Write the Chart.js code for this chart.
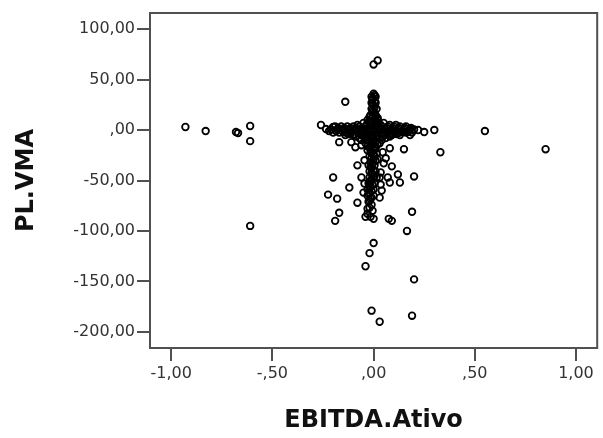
<!DOCTYPE html>
<html><head><meta charset="utf-8">
<script src="https://cdn.jsdelivr.net/npm/chart.js@4/dist/chart.umd.min.js"></script>
<style>html,body{margin:0;padding:0;background:#fff;overflow:hidden}#wrap{width:603px;height:438px}</style>
</head><body><div id="wrap"><canvas id="c" width="603" height="438"></canvas></div>
<script>
// Tick values and labels
const xTickValues = [-1, -0.5, 0, 0.5, 1];
const xTickLabels = ['-1,00', '-,50', ',00', ',50', '1,00'];
const yTickValues = [-200, -150, -100, -50, 0, 50, 100];
const yTickLabels = ['-200,00', '-150,00', '-100,00', '-50,00', ',00', '50,00', '100,00'];

// Far outliers
const farX = [-0.93, -0.83, -0.68, -0.67, -0.61, -0.61, -0.61, 0.55, 0.85, 0.00, 0.02, -0.14];
const farY = [3, -1, -2, -3, 4, -11, -95, -1, -19, 65, 69, 28];
// Scatter around the horizontal arm
const armScatterX = [-0.26, -0.235, -0.20, -0.22, -0.17, -0.11, -0.09, -0.06, 0.11, 0.22, 0.25, 0.30, 0.17, 0.18, 0.33, 0.15, 0.08, 0.06, 0.09, -0.08];
const armScatterY = [5, 1, 3, -1, -12, -12, -17, -15, 5, 0, -2, 0, -2, -5, -22, -19, -18, -28, -36, -35];
// Lower scatter
const lowX = [-0.20, -0.12, -0.225, -0.18, -0.08, -0.17, -0.19, 0.19, 0.075, 0.09, 0.165, 0.00, -0.02, -0.04, 0.20, -0.01, 0.03, 0.19, 0.20];
const lowY = [-47, -57, -64, -68, -72, -82, -90, -81, -88, -90, -100, -112, -122, -135, -148, -179, -190, -184, -46];
// Mid scatter near the stem
const midX = [-0.06, -0.045, 0.03, 0.07, 0.08, 0.035, 0.12, 0.13, 0.03, -0.03, -0.015, -0.04, 0.00, 0.035, 0.05, -0.045, 0.04, -0.05, 0.045];
const midY = [-47, -53, -47, -47, -52, -54, -44, -52, -67, -78, -86, -86, -88, -42, -33, -30, -60, -62, -22];
// Dense horizontal arm
const armX = [-0.19, -0.16, -0.13, -0.10, -0.07, -0.04, 0.04, 0.07, 0.10, 0.13, 0.16,
  -0.21, -0.18, -0.15, -0.12, -0.09, -0.06, -0.03, 0.00, 0.03, 0.06, 0.09, 0.12, 0.15, 0.18, 0.20,
  -0.20, -0.17, -0.14, -0.11, -0.08, -0.05, -0.02, 0.01, 0.04, 0.07, 0.10, 0.13, 0.16, 0.19,
  -0.14, -0.10, -0.06, -0.03, 0.02, 0.05, 0.09, 0.13,
  -0.05, -0.02, 0.02, 0.05, -0.07, -0.04, -0.01, 0.03, 0.06, -0.03, 0.02];
const armY = [3.5, 3.5, 3.5, 3.5, 3.5, 3.5, 3.5, 3.5, 3.5, 3.5, 3.5,
  0.5, 0.5, 0.5, 0.5, 0.5, 0.5, 0.5, 0.5, 0.5, 0.5, 0.5, 0.5, 0.5, 0.5, 0.5,
  -2.5, -2.5, -2.5, -2.5, -2.5, -2.5, -2.5, -2.5, -2.5, -2.5, -2.5, -2.5, -2.5, -2.5,
  -5, -5, -5, -5, -5, -5, -5, -5,
  7, 7, 7, 7, -8, -8, -8, -8, -8, 10, 10];
// Extra dense arm rows and central blob
const arm2X = [-0.175, -0.145, -0.115, -0.085, -0.055, -0.025, 0.005, 0.035, 0.065, 0.095, 0.125, 0.155, 0.185,
  -0.185, -0.155, -0.125, -0.095, -0.065, -0.035, -0.005, 0.025, 0.055, 0.085, 0.115, 0.145, 0.175,
  -0.125, -0.095, -0.065, -0.035, -0.005, 0.035, 0.065, 0.095, 0.115,
  -0.08, -0.035, 0.0, 0.035, 0.08,
  -0.09, -0.05, -0.015, 0.015, 0.045, 0.08,
  -0.06, -0.03, 0.0, 0.04,
  -0.04, -0.005, 0.03,
  -0.02, 0.01, -0.03, 0.01];
const arm2Y = [2, 2, 2, 2, 2, 2, 2, 2, 2, 2, 2, 2, 2,
  -1, -1, -1, -1, -1, -1, -1, -1, -1, -1, -1, -1, -1,
  -4, -4, -4, -4, -4, -4, -4, -4, -4,
  5, 5, 5, 5, 5,
  -6.5, -6.5, -6.5, -6.5, -6.5, -6.5,
  -10, -10, -10, -10,
  -13, -13, -13,
  13, 13, -16, -16];
// Dense vertical stem
const stemX = [0, -0.01, 0.01, -0.005, -0.01, 0.01, 0, -0.01, 0.015, 0, -0.015, 0.01, -0.005, 0.02, -0.02, 0.01,
  -0.02, 0.01, -0.01, 0.02, -0.02, 0.005, 0, -0.03, -0.01, 0.015, -0.02, 0.005, 0, 0.02, -0.015, 0.005, -0.025, -0.01,
  0.01, -0.02, -0.005, -0.02, 0.015, -0.01, -0.025, 0.005, -0.015, -0.03, 0, -0.02, -0.03, 0, -0.015, -0.025, -0.01, -0.02, -0.005, -0.03];
const stemY = [36, 33, 33, 30, 27, 27, 24, 21, 21, 18, 15, 15, 12, 12, 9, 9,
  -11, -11, -14, -14, -17, -17, -20, -20, -23, -23, -26, -26, -29, -29, -32, -35, -35, -38,
  -41, -41, -44, -47, -47, -50, -53, -53, -56, -59, -59, -62, -65, -65, -68, -71, -74, -77, -80, -83];
// Extra stem points
const stem2X = [0.005, -0.005, 0.005, -0.005, 0.005, -0.005, 0.005, -0.005, 0.005, -0.01, 0.01,
  -0.005, -0.015, 0.01, -0.015, 0.0, -0.01, 0.01, -0.005, -0.015, 0.0, -0.01, 0.005, -0.01, -0.02, -0.005, -0.02, -0.01, -0.025, -0.01, -0.02];
const stem2Y = [34.5, 31.5, 28.5, 25.5, 22.5, 19.5, 16.5, 13.5, 10.5, 7, 5,
  -12.5, -15.5, -18.5, -21.5, -24.5, -27.5, -30.5, -33.5, -36.5, -39.5, -42.5, -45.5, -48.5, -51.5, -54.5, -57.5, -60.5, -63.5, -67, -70];

const allX = [].concat(farX, armScatterX, lowX, midX, armX, arm2X, stemX, stem2X);
const allY = [].concat(farY, armScatterY, lowY, midY, armY, arm2Y, stemY, stem2Y);
const points = allX.map((x, i) => ({ x: x, y: allY[i] }));

const frame = {
  id: 'frame',
  beforeDatasetsDraw(chart) {
    const { ctx, chartArea: a } = chart;
    ctx.save();
    ctx.strokeStyle = '#505050';
    ctx.lineWidth = 2;
    ctx.strokeRect(a.left, a.top, a.right - a.left, a.bottom - a.top);
    ctx.restore();
  }
};

const tickFont = { family: 'DejaVu Sans', size: 16 };
const titleFont = { family: 'DejaVu Sans', size: 24, weight: 'bold' };

new Chart(document.getElementById('c'), {
  type: 'scatter',
  data: {
    datasets: [{
      data: points,
      pointRadius: 3.3,
      pointBorderWidth: 1.8,
      pointBorderColor: '#000',
      pointBackgroundColor: 'rgba(0,0,0,0)',
      pointStyle: 'circle'
    }]
  },
  options: {
    responsive: false,
    animation: false,
    events: [],
    layout: { padding: { top: 13, right: 2, left: 0, bottom: 0 } },
    plugins: { legend: { display: false }, tooltip: { enabled: false } },
    scales: {
      x: {
        type: 'linear',
        min: -1.105, max: 1.105,
        afterBuildTicks: s => { s.ticks = xTickValues.map(v => ({ value: v })); },
        afterFit: s => { s.height = 90; },
        ticks: {
          callback: v => xTickLabels[xTickValues.indexOf(v)],
          font: tickFont, color: '#333', padding: 3, maxRotation: 0, autoSkip: false
        },
        grid: { drawOnChartArea: false, drawTicks: true, tickLength: 13, color: '#505050', lineWidth: 2 },
        border: { display: false },
        title: { display: true, text: 'EBITDA.Ativo', font: titleFont, color: '#111', padding: { top: 0, bottom: 3 } }
      },
      y: {
        type: 'linear',
        min: -216, max: 116,
        afterBuildTicks: s => { s.ticks = yTickValues.map(v => ({ value: v })); },
        afterFit: s => { s.width = 150; },
        ticks: {
          callback: v => yTickLabels[yTickValues.indexOf(v)],
          font: tickFont, color: '#333', padding: 2, autoSkip: false
        },
        grid: { drawOnChartArea: false, drawTicks: true, tickLength: 13, color: '#505050', lineWidth: 2 },
        border: { display: false },
        title: { display: true, text: 'PL.VMA', font: titleFont, color: '#111', padding: { top: 12, bottom: 0 } }
      }
    }
  },
  plugins: [frame]
});
</script>
</body></html>
